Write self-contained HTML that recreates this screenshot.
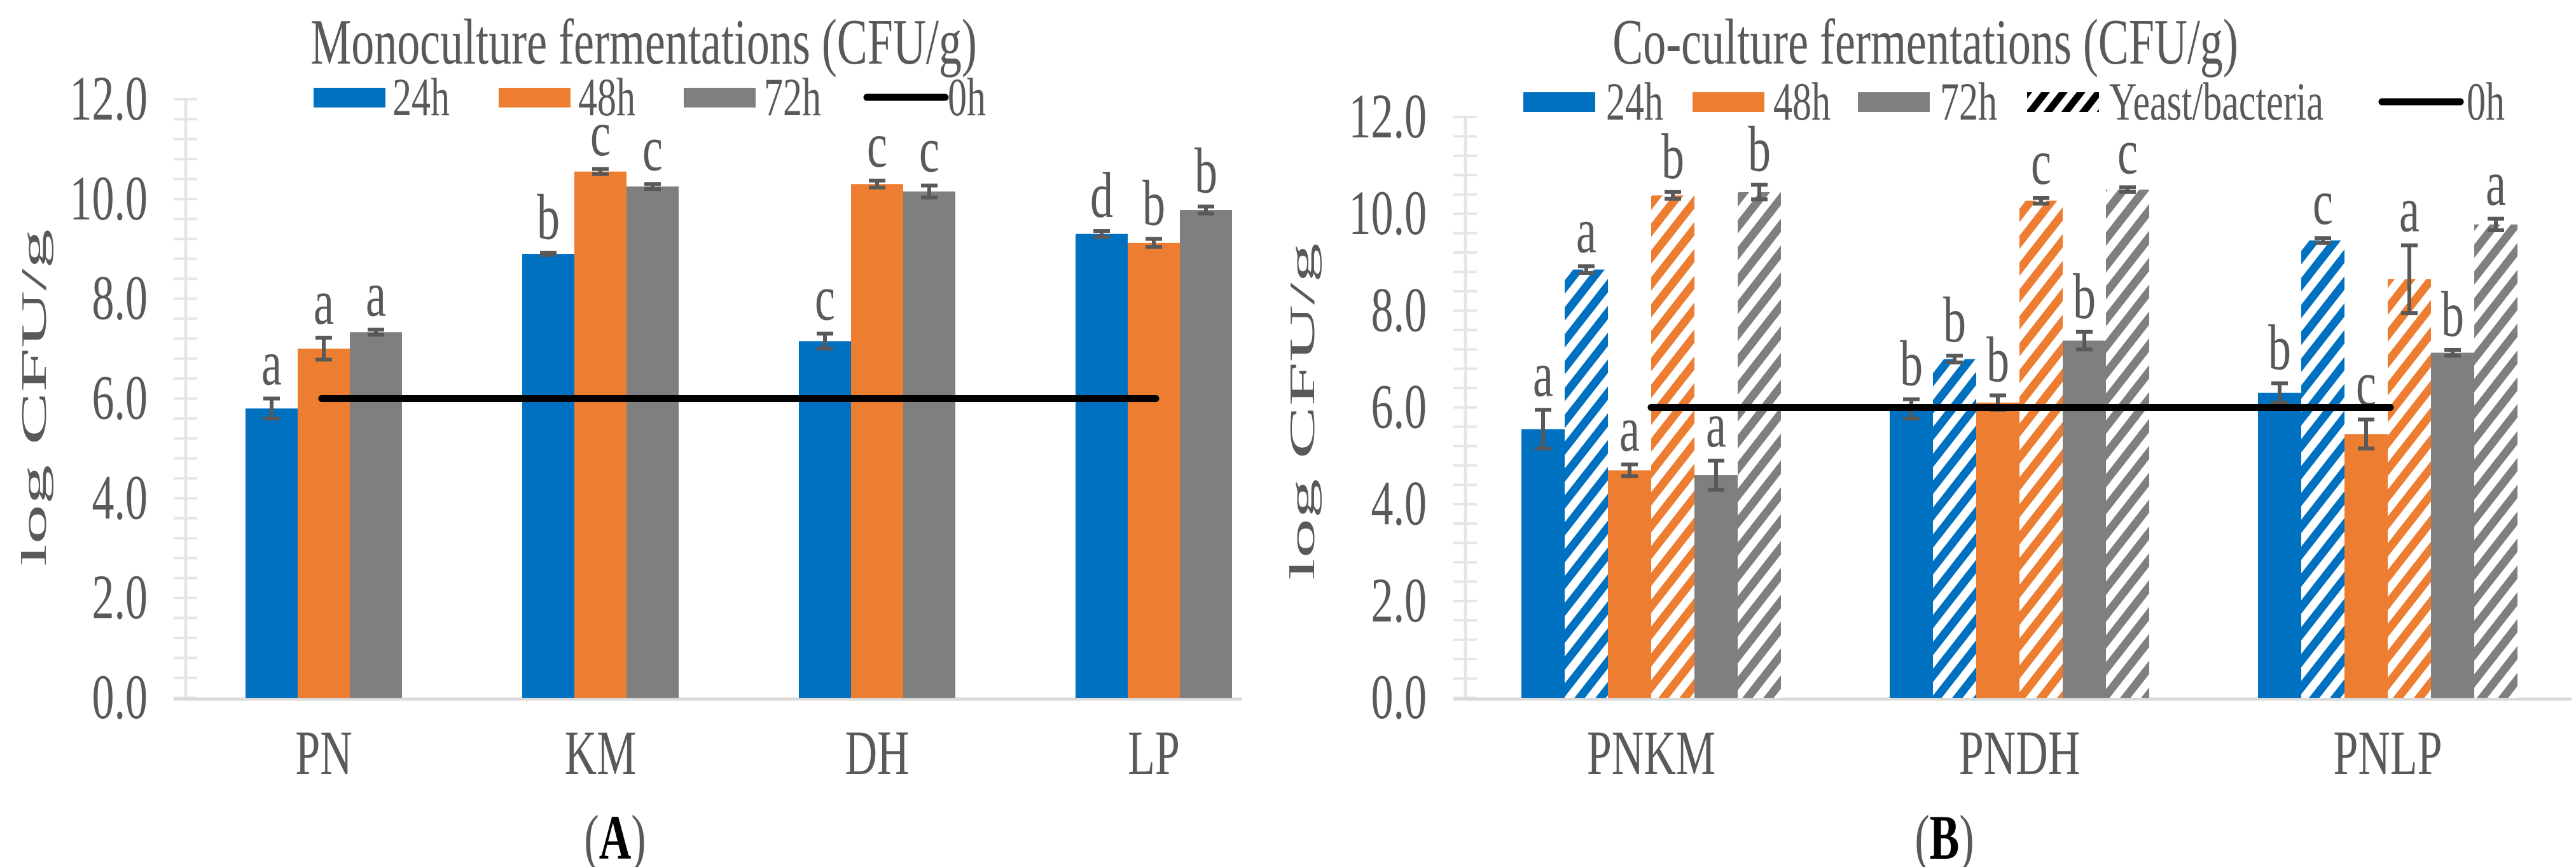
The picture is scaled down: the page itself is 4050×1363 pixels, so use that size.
<!DOCTYPE html>
<html><head><meta charset="utf-8"><style>
body{margin:0;background:#fff}
svg{display:block}
text{font-family:"Liberation Serif",serif;fill:#595959}
</style></head><body>
<svg id="svg" width="4050" height="1363" viewBox="0 0 4050 1363" xmlns="http://www.w3.org/2000/svg">
<defs>
<pattern id="hb" patternUnits="userSpaceOnUse" width="26" height="26" patternTransform="rotate(38)"><rect width="26" height="26" fill="#fff"/><rect width="13" height="26" fill="#0070C0"/></pattern>
<pattern id="ho" patternUnits="userSpaceOnUse" width="26" height="26" patternTransform="rotate(38)"><rect width="26" height="26" fill="#fff"/><rect width="13" height="26" fill="#ED7D31"/></pattern>
<pattern id="hg" patternUnits="userSpaceOnUse" width="26" height="26" patternTransform="rotate(38)"><rect width="26" height="26" fill="#fff"/><rect width="13" height="26" fill="#7F7F7F"/></pattern>
<pattern id="hk" patternUnits="userSpaceOnUse" width="22" height="22" patternTransform="rotate(38)"><rect width="22" height="22" fill="#fff"/><rect width="11" height="22" fill="#000"/></pattern>
</defs>
</svg>
<script>
const monoCats=["PN","KM","DH","LP"];
const mono24=[5.8,8.9,7.15,9.3];
const mono48=[7.0,10.55,10.3,9.12];
const mono72=[7.33,10.25,10.15,9.78];
const monoErr24=[0.2,0.02,0.15,0.06];
const monoErr48=[0.22,0.05,0.07,0.08];
const monoErr72=[0.05,0.05,0.12,0.07];
const monoLet24=["a","b","c","d"];
const monoLet48=["a","c","c","b"];
const monoLet72=["a","c","c","b"];
const coCats=["PNKM","PNDH","PNLP"];
const co24=[5.55,5.97,6.3];
const coY24=[8.85,7.0,9.45];
const co48=[4.7,6.1,5.45];
const coY48=[10.38,10.27,8.65];
const co72=[4.6,7.38,7.13];
const coY72=[10.45,10.5,9.78];
const coErr24=[0.4,0.2,0.2];
const coErrY24=[0.07,0.07,0.05];
const coErr48=[0.12,0.15,0.3];
const coErrY48=[0.07,0.06,0.7];
const coErr72=[0.3,0.18,0.06];
const coErrY72=[0.15,0.05,0.12];
const coLet24=["a","b","b"];
const coLetY24=["a","b","c"];
const coLet48=["a","b","c"];
const coLetY48=["b","c","a"];
const coLet72=["a","b","b"];
const coLetY72=["b","c","a"];
const yTicks=[0,2,4,6,8,10,12];
const baseline0h=6.0;

const SY=1.42;
const svg=document.getElementById('svg');
const NS="http://www.w3.org/2000/svg";
function mk(tag,at,txt){const e=document.createElementNS(NS,tag);for(const k in at)e.setAttribute(k,at[k]);if(txt!==undefined)e.textContent=txt;svg.appendChild(e);return e;}
function tx(x,y,at,txt){at.x=0;at.y=0;at.transform=`translate(${x},${y}) scale(1,${SY})`;return mk('text',at,txt);}

function chart(o){
  const y=v=>o.y0-(v/12)*(o.y0-o.y12);
  for(let v=0;v<=12.001;v+=0.4){
    const t=mk('line',{x1:o.axL,x2:o.axX+18,y1:y(v),y2:y(v),stroke:'#e6e6e6','stroke-width':4});
    
    
  }
  const ax=mk('line',{x1:o.axX,x2:o.axX,y1:y(12),y2:y(0),stroke:'#e6e6e6','stroke-width':5});
  
  
  yTicks.forEach(v=>{
    const t=tx(o.tickR,y(v)+32,{'text-anchor':'end','font-size':70},v.toFixed(1));
    
    
  });
  const bx=mk('line',{x1:o.axL,x2:o.axR,y1:y(0)+2,y2:y(0)+2,stroke:'#d9d9d9','stroke-width':5});
  
  
  const n=o.series.length;
  o.cats.forEach((c,i)=>{
    const cx=o.c0+i*o.step;
    o.series.forEach((s,j)=>{
      const v=s.vals[i],e=s.err[i];
      const x=cx+(j-n/2)*o.bw;
      const r=mk('rect',{x:x,y:y(v),width:o.bw,height:y(0)-y(v),fill:s.fill});
      
      
      const mx=x+o.bw/2;
      const g=mk('path',{d:`M${mx} ${y(v+e)}V${y(v-e)}M${mx-13} ${y(v+e)}H${mx+13}M${mx-13} ${y(v-e)}H${mx+13}`,stroke:'#595959','stroke-width':6,fill:'none'});
      
      
      const l=tx(mx,y(v+e)-22,{'text-anchor':'middle','font-size':72},s.let[i]);
      
      
    });
    const cl=tx(cx,o.catY,{'text-anchor':'middle','font-size':70},c);
    
    
  });
  const h=mk('line',{x1:o.lineX1,x2:o.lineX2,y1:y(baseline0h),y2:y(baseline0h),stroke:'#000','stroke-width':11,'stroke-linecap':'round'});
  
  
  const ti=tx(o.titleX,100,{'text-anchor':'middle','font-size':72},o.title);
  
  
  const yt=mk('text',{x:0,y:0,'text-anchor':'middle','font-size':56,textLength:530,lengthAdjust:'spacingAndGlyphs',transform:`translate(${o.ytX},${o.ytY}) rotate(-90)`},'log CFU/g');
  
  
  const pl=tx(o.panelX,1350,{'text-anchor':'middle','font-size':70},'');
  
  
  const t1=document.createElementNS(NS,'tspan');t1.textContent='(';pl.appendChild(t1);
  const t2=document.createElementNS(NS,'tspan');t2.textContent=o.panel;t2.setAttribute('font-weight','bold');t2.setAttribute('style','fill:#000');pl.appendChild(t2);
  const t3=document.createElementNS(NS,'tspan');t3.textContent=')';pl.appendChild(t3);
  o.legend.forEach(L=>{
    if(L.line){
      const a=mk('line',{x1:L.x,x2:L.x+123,y1:o.legY,y2:o.legY,stroke:'#000','stroke-width':11,'stroke-linecap':'round'});
      
      
    } else {
      const a=mk('rect',{x:L.x,y:o.legY-15,width:113,height:31,fill:L.fill});
      
      
    }
    const t=tx(L.tx,o.legY+28,{'font-size':60},L.label);
    
    
  });
}

chart({y0:1097,y12:156,axX:292,axL:273,axR:1953,tickR:232,c0:509,step:435,bw:82,catY:1217,
  lineX1:506,lineX2:1817,title:'Monoculture fermentations (CFU/g)',titleX:1012,ytX:72,ytY:625,panelX:967,panel:'A',
  cats:monoCats,legY:153,
  series:[{key:'24h',vals:mono24,err:monoErr24,let:monoLet24,fill:'#0070C0'},
          {key:'48h',vals:mono48,err:monoErr48,let:monoLet48,fill:'#ED7D31'},
          {key:'72h',vals:mono72,err:monoErr72,let:monoLet72,fill:'#7F7F7F'}],
  legend:[{x:493,tx:617,fill:'#0070C0',label:'24h'},{x:784,tx:909,fill:'#ED7D31',label:'48h'},
          {x:1075,tx:1201,fill:'#7F7F7F',label:'72h'},{x:1363,tx:1490,line:true,label:'0h'}]});

chart({y0:1097,y12:184,axX:2304,axL:2285,axR:4043,tickR:2243,c0:2596,step:579,bw:68,catY:1217,
  lineX1:2596,lineX2:3758,title:'Co-culture fermentations (CFU/g)',titleX:3027,ytX:2066,ytY:647,panelX:3057,panel:'B',
  cats:coCats,legY:160,
  series:[{key:'24h',vals:co24,err:coErr24,let:coLet24,fill:'#0070C0'},
          {key:'24h-yeast-bacteria',vals:coY24,err:coErrY24,let:coLetY24,fill:'url(#hb)'},
          {key:'48h',vals:co48,err:coErr48,let:coLet48,fill:'#ED7D31'},
          {key:'48h-yeast-bacteria',vals:coY48,err:coErrY48,let:coLetY48,fill:'url(#ho)'},
          {key:'72h',vals:co72,err:coErr72,let:coLet72,fill:'#7F7F7F'},
          {key:'72h-yeast-bacteria',vals:coY72,err:coErrY72,let:coLetY72,fill:'url(#hg)'}],
  legend:[{x:2395,tx:2525,fill:'#0070C0',label:'24h'},{x:2661,tx:2788,fill:'#ED7D31',label:'48h'},
          {x:2921,tx:3050,fill:'#7F7F7F',label:'72h'},{x:3187,tx:3316,fill:'url(#hk)',label:'Yeast/bacteria'},
          {x:3745,tx:3878,line:true,label:'0h'}]});
</script>
</body></html>
